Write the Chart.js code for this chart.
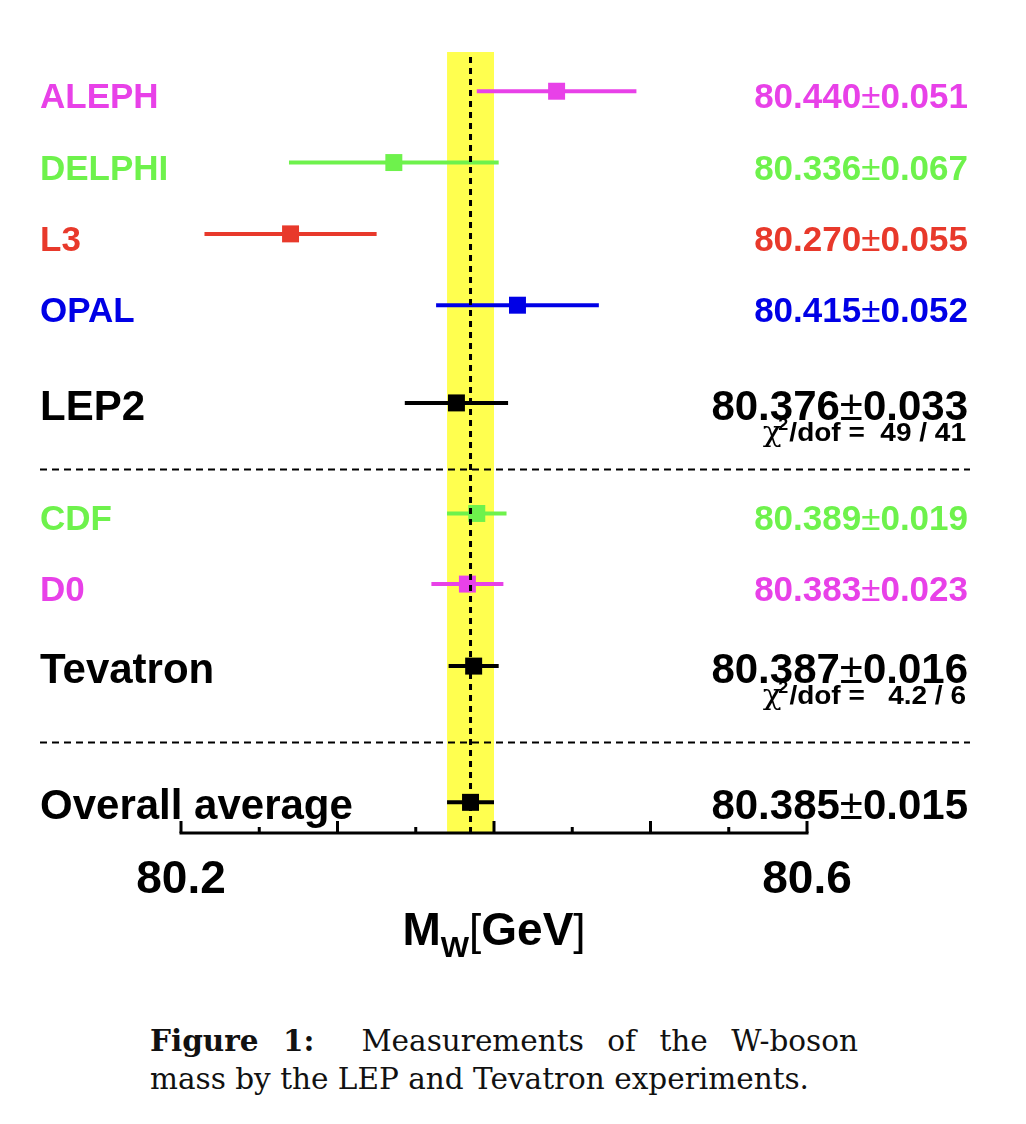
<!DOCTYPE html>
<html>
<head>
<meta charset="utf-8">
<script src="https://cdn.jsdelivr.net/npm/chart.js@4.4.0/dist/chart.umd.min.js"></script>
<style>
  body { margin: 0; background: #fff; }
  #wrap { position: relative; width: 1026px; height: 1124px; overflow: hidden; }
  #chart { position: absolute; left: 0; top: 0; }
  .cap { position: absolute; left: 150px; font-family: "DejaVu Serif", serif; font-size: 29.5px; line-height: 38px; color: #111; white-space: nowrap; }
  #cap1 { top: 1022px; width: 708px; text-align: justify; text-align-last: justify; white-space: normal; }
  #cap2 { top: 1060px; }
</style>
</head>
<body>
<div id="wrap">
  <canvas id="chart" width="1026" height="990"></canvas>
  <div class="cap" id="cap1"><b>Figure 1:</b>&nbsp; Measurements of the W-boson</div>
  <div class="cap" id="cap2">mass by the LEP and Tevatron experiments.</div>
</div>
<script>
// measurements, top to bottom
const experiments = ['ALEPH', 'DELPHI', 'L3', 'OPAL', 'LEP2', 'CDF', 'D0', 'Tevatron', 'Overall average'];
const massValues = [80.440, 80.336, 80.270, 80.415, 80.376, 80.389, 80.383, 80.387, 80.385];
const massErrors = [0.051, 0.067, 0.055, 0.052, 0.033, 0.019, 0.023, 0.016, 0.015];
const rowIndex = [1, 2, 3, 4, 5.37, 6.92, 7.91, 9.06, 10.97];
const isCombined = [false, false, false, false, true, false, false, true, true];

// chi2 notes under the combined results
const chi2Rows = ['LEP2', 'Tevatron'];
const chi2Text = [' 49 / 41', '  4.2 / 6'];

// dashed separators between the blocks
const separatorRows = [6.29, 10.13];

// axis
const xMin = 80.2, xMax = 80.6, xStep = 0.05;
const xTickLabels = ['80.2', '80.6'];

const rowColors = ['#e841e8', '#6ef24c', '#e8392b', '#0000e6', '#000000', '#6ef24c', '#e841e8', '#000000', '#000000'];

const SANS = '"Liberation Sans", Arial, sans-serif';
const avgIdx = experiments.length - 1;

const errorBars = experiments.map((name, i) => ({
    label: name,
    data: [
        { x: massValues[i] - massErrors[i], y: rowIndex[i] },
        { x: massValues[i] + massErrors[i], y: rowIndex[i] }
    ],
    showLine: true,
    borderColor: rowColors[i],
    borderWidth: 4,
    pointRadius: 0,
    order: 2
}));

const centres = {
    label: 'central values',
    data: experiments.map((name, i) => ({ x: massValues[i], y: rowIndex[i] })),
    pointStyle: 'rect',
    pointRadius: 12,
    backgroundColor: rowColors,
    borderWidth: 0,
    order: 1
};

// value text with a thinner plus-minus sign
function drawValue(ctx, i, right, y, size) {
    const a = massValues[i].toFixed(3), b = massErrors[i].toFixed(3);
    const bold = `bold ${size}px ${SANS}`, thin = `${size}px ${SANS}`;
    ctx.font = bold; const wa = ctx.measureText(a).width, wb = ctx.measureText(b).width;
    ctx.font = thin; const wp = ctx.measureText('±').width;
    let x = right - wa - wp - wb;
    ctx.textAlign = 'left';
    ctx.font = bold; ctx.fillText(a, x, y); x += wa;
    ctx.font = thin; ctx.fillText('±', x, y); x += wp;
    ctx.font = bold; ctx.fillText(b, x, y);
}

function drawChi2(ctx, text, right, y) {
    const sx = 1.12;
    const chi = '28px "DejaVu Serif", serif';
    const sup = `bold 16px ${SANS}`;
    const rest = `bold 25px ${SANS}`;
    const tail = '/dof = ' + text;
    ctx.font = chi; const wc = ctx.measureText('χ').width;
    ctx.font = sup; const ws = ctx.measureText('2').width;
    ctx.font = rest; const wr = ctx.measureText(tail).width;
    ctx.save();
    ctx.translate(right, y);
    ctx.scale(sx, 1);
    let x = -(wr + ws + wc - 2);
    ctx.textAlign = 'left';
    ctx.font = chi; ctx.fillText('χ', x, 0); x += wc;
    ctx.font = sup; ctx.fillText('2', x - 3, -11); x += ws - 2;
    ctx.font = rest; ctx.fillText(tail, x, 0);
    ctx.restore();
}

const decor = {
    id: 'decor',
    beforeDatasetsDraw(chart) {
        const { ctx, chartArea: a, scales: { x } } = chart;
        const l = x.getPixelForValue(massValues[avgIdx] - massErrors[avgIdx]);
        const r = x.getPixelForValue(massValues[avgIdx] + massErrors[avgIdx]);
        ctx.save();
        ctx.fillStyle = '#ffff4f';
        ctx.fillRect(l, a.top, r - l, a.bottom - a.top);
        ctx.restore();
    },
    afterDatasetsDraw(chart) {
        const { ctx, chartArea: a, scales: { x } } = chart;
        const px = x.getPixelForValue(massValues[avgIdx]);
        ctx.save();
        ctx.strokeStyle = '#000';
        ctx.lineWidth = 3;
        ctx.setLineDash([6, 5]);
        ctx.beginPath();
        ctx.moveTo(px, a.top + 5);
        ctx.lineTo(px, a.bottom);
        ctx.stroke();
        ctx.restore();
    },
    afterDraw(chart) {
        const { ctx, chartArea: a, scales: { x, y } } = chart;
        ctx.save();

        // separators
        ctx.strokeStyle = '#000';
        ctx.lineWidth = 2;
        ctx.setLineDash([7, 5]);
        separatorRows.forEach(r => {
            const py = Math.round(y.getPixelForValue(r)) + 0.5;
            ctx.beginPath(); ctx.moveTo(40, py); ctx.lineTo(970, py); ctx.stroke();
        });
        ctx.setLineDash([]);

        // axis line and upward ticks
        const base = a.bottom;
        ctx.lineWidth = 3;
        ctx.beginPath(); ctx.moveTo(a.left - 1.5, base); ctx.lineTo(a.right + 1.5, base); ctx.stroke();
        ctx.fillStyle = '#000';
        ctx.textBaseline = 'alphabetic';
        x.ticks.forEach(t => {
            const px = x.getPixelForValue(t.value);
            const major = Math.round(t.value * 100) % 10 === 0;
            ctx.beginPath(); ctx.moveTo(px, base); ctx.lineTo(px, base - (major ? 12 : 6)); ctx.stroke();
            const lbl = String(+t.value.toFixed(2));
            if (xTickLabels.includes(lbl)) {
                ctx.font = `bold 46px ${SANS}`;
                ctx.textAlign = 'center';
                ctx.fillText(lbl, px, base + 60);
            }
        });

        // axis title M_W[GeV]
        const parts = [
            ['M', `bold 46px ${SANS}`, 0],
            ['W', `bold 30px ${SANS}`, 12],
            ['[', `44px ${SANS}`, 0],
            ['GeV', `bold 46px ${SANS}`, 0],
            [']', `44px ${SANS}`, 0]
        ];
        let total = 0;
        parts.forEach(p => { ctx.font = p[1]; p.push(ctx.measureText(p[0]).width); total += p[3]; });
        let tx = (a.left + a.right) / 2 - total / 2;
        ctx.textAlign = 'left';
        parts.forEach(p => { ctx.font = p[1]; ctx.fillText(p[0], tx, base + 112 + p[2]); tx += p[3]; });

        // row labels and values
        experiments.forEach((name, i) => {
            const py = y.getPixelForValue(rowIndex[i]) + 17;
            const size = isCombined[i] ? 42 : 35;
            ctx.fillStyle = rowColors[i];
            ctx.font = `bold ${size}px ${SANS}`;
            ctx.textAlign = 'left';
            ctx.fillText(name, 40, py);
            drawValue(ctx, i, 968, py, size);
            const c = chi2Rows.indexOf(name);
            if (c >= 0) drawChi2(ctx, chi2Text[c], 966, py + 21);
        });
        ctx.restore();
    }
};

new Chart(document.getElementById('chart'), {
    type: 'scatter',
    data: { datasets: [centres, ...errorBars] },
    options: {
        responsive: false,
        animation: false,
        layout: { padding: { left: 181, right: 219, top: 52, bottom: 157 } },
        plugins: { legend: { display: false }, tooltip: { enabled: false } },
        scales: {
            x: { type: 'linear', min: xMin, max: xMax, display: false, ticks: { stepSize: xStep } },
            y: { type: 'linear', min: 0.45, max: 11.4, reverse: true, display: false }
        }
    },
    plugins: [decor]
});
</script>
</body>
</html>
